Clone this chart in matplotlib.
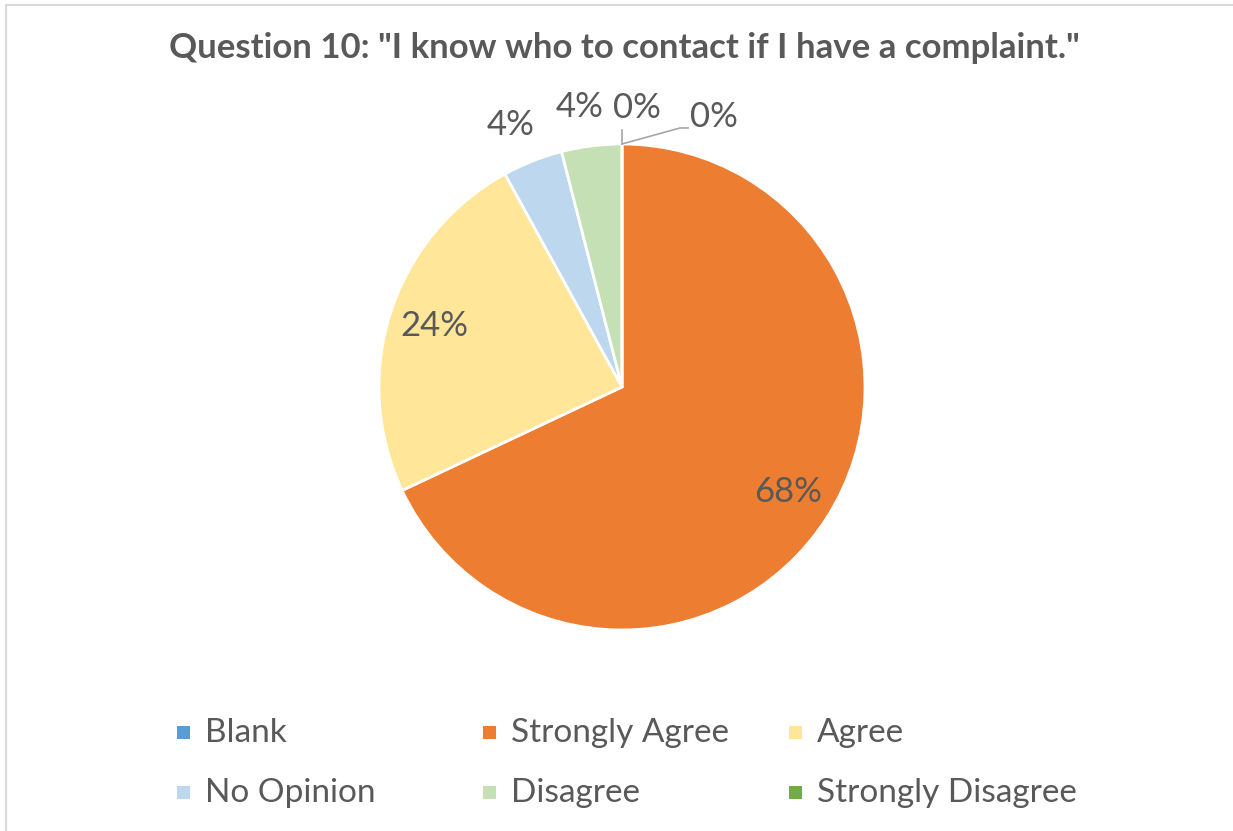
import matplotlib
matplotlib.use('Agg')
import matplotlib.pyplot as plt
from matplotlib.patches import Rectangle
import numpy as np

plt.rcParams['font.family'] = ['Lato', 'DejaVu Sans']

categories = ['Blank', 'Strongly Agree', 'Agree', 'No Opinion', 'Disagree', 'Strongly Disagree']
counts = [0, 17, 6, 1, 1, 0]
colors = ['#5B9BD5', '#ED7D31', '#FFE699', '#BDD7EE', '#C5E0B4', '#70AD47']
title = 'Question 10: "I know who to contact if I have a complaint."'

W, H = 1233, 831
TXT = '#595959'
FS = 24
PFS = 25

fig = plt.figure(figsize=(W / 100, H / 100), dpi=100)
fig.patches.append(Rectangle((6 / W, -0.1), 1.2, (H - 5) / H + 0.1, transform=fig.transFigure,
                             fill=False, edgecolor='#D9D9D9', linewidth=1.5))

# pie center ~ (622, 387) px, radius ~243 px
cx, cy, r = 622, 387, 243
ax = fig.add_axes([(cx - r) / W, (H - cy - r) / H, 2 * r / W, 2 * r / H])
wedges, _ = ax.pie(counts, colors=colors, startangle=90, counterclock=False,
                   wedgeprops=dict(edgecolor='white', linewidth=2))
ax.set_xlim(-1, 1)
ax.set_ylim(-1, 1)

total = sum(counts)
for i, w in enumerate(wedges):
    pct = f'{round(100 * counts[i] / total)}%'
    mid = np.deg2rad((w.theta1 + w.theta2) / 2)
    frac = counts[i] / total
    if frac > 0.1:
        d = 0.81
        ax.text(d * np.cos(mid), d * np.sin(mid), pct, ha='center', va='center',
                fontsize=PFS, color=TXT)
    elif counts[i] > 0:
        d = 1.16
        ax.text(d * np.cos(mid) - 0.03, d * np.sin(mid), pct, ha='center', va='center',
                fontsize=PFS, color=TXT, clip_on=False)
    elif i == len(wedges) - 1:
        ax.text(0.06, 1.15, pct, ha='center', va='center', fontsize=PFS, color=TXT, clip_on=False)
    else:
        # blank slice: label pulled out to the right with a leader line
        ax.plot([0, 0], [1.0, 1.058], color='#A6A6A6', lw=1.2, clip_on=False)
        ax.plot([0, 0.239, 0.272], [1.0, 1.066, 1.066], color='#A6A6A6', lw=1.2, clip_on=False)
        ax.text(0.38, 1.11, pct, ha='center', va='center', fontsize=PFS, color=TXT, clip_on=False)

fig.text(624 / W, 1 - 48 / H, title, ha='center', va='center', fontsize=25,
         fontweight='bold', color=TXT)

# legend, 3 columns x 2 rows
col_x = [183, 489, 795]
row_y = [733, 793]
for i, lab in enumerate(categories):
    x = col_x[i % 3]
    y = row_y[i // 3]
    fig.patches.append(Rectangle(((x - 6) / W, 1 - (y + 6) / H), 13 / W, 13 / H,
                                 transform=fig.transFigure, facecolor=colors[i], edgecolor='none'))
    fig.text((x + 22) / W, 1 - y / H, lab, ha='left', va='center', fontsize=FS, color=TXT)

fig.savefig('out.png', dpi=100)
